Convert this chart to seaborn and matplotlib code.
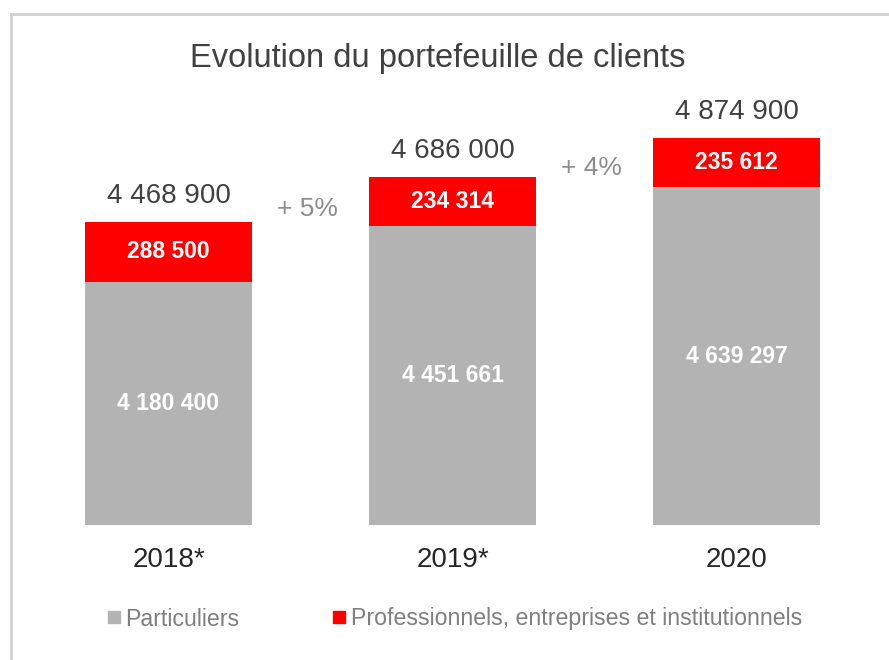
import matplotlib
matplotlib.use("Agg")
import matplotlib.pyplot as plt
from matplotlib.lines import Line2D
from matplotlib.patches import Rectangle
import seaborn as sns
import pandas as pd

# data
years = ["2018*", "2019*", "2020"]
particuliers = [4180400, 4451661, 4639297]
professionnels = [288500, 234314, 235612]
totals = [4468900, 4686000, 4874900]
growth = ["+ 5%", "+ 4%"]

gray = "#B3B3B3"
red = "#FF0000"

sns.set_theme(style="white")
plt.rcParams["font.family"] = ["Liberation Sans", "DejaVu Sans"]

df = pd.DataFrame({"year": years, "part": particuliers, "pro": professionnels, "total": totals})

fig = plt.figure(figsize=(8.89, 6.6), dpi=100)
ax = fig.add_axes([0.0298, 0.2045, 0.9584, 0.644])

# card border
fig.patches.append(Rectangle((11 / 889, -0.1), 1.2, 1 - 14 / 660 + 0.1, transform=fig.transFigure,
                             facecolor="white", edgecolor="#D0D0D0", linewidth=2, zorder=-1))

# stacked look: full total in red, particuliers in gray on top
sns.barplot(data=df, x="year", y="total", color=red, width=0.59, saturation=1, linewidth=0, ax=ax)
sns.barplot(data=df, x="year", y="part", color=gray, width=0.59, saturation=1, linewidth=0, ax=ax)

ax.set_ylim(3000000, 5061250)
ax.set_xlim(-0.5, 2.5)
ymin = ax.get_ylim()[0]

for i in range(len(years)):
    ax.text(i, (ymin + particuliers[i]) / 2, f"{particuliers[i]:,}".replace(",", " "),
            ha="center", va="center", color="white", fontsize=16.5, fontweight="bold")
    ax.text(i, particuliers[i] + professionnels[i] / 2, f"{professionnels[i]:,}".replace(",", " "),
            ha="center", va="center", color="white", fontsize=16.5, fontweight="bold")
    ax.annotate(f"{totals[i]:,}".replace(",", " "), (i, totals[i]), xytext=(0, 19),
                textcoords="offset points", ha="center", va="center", color="#404040", fontsize=20)

for i, g in enumerate(growth):
    ax.annotate(g, (i + 0.49, (totals[i] + totals[i + 1]) / 2), xytext=(0, -7),
                textcoords="offset points", ha="center", va="center", color="#8C8C8C", fontsize=19)

ax.set_xlabel("")
ax.set_ylabel("")
ax.set_yticks([])
ax.tick_params(axis="x", length=0, pad=16, labelsize=20, labelcolor="#262626")
sns.despine(ax=ax, left=True, bottom=True)
ax.patch.set_alpha(0)

fig.text(0.4927, 1 - 58 / 660, "Evolution du portefeuille de clients", ha="center", va="center",
         fontsize=23.5, color="#404040")

handles = [Line2D([], [], marker="s", linestyle="", color=gray, markersize=8),
           Line2D([], [], marker="s", linestyle="", color=red, markersize=8)]
fig.legend(handles, ["Particuliers", "Professionnels, entreprises et institutionnels"],
           loc="center", bbox_to_anchor=(0.511, 1 - 619 / 660), ncol=2, frameon=False,
           fontsize=16.7, labelcolor="#7F7F7F", handlelength=0.6, handletextpad=0.2,
           columnspacing=4.0)

fig.savefig("out.png", dpi=100, facecolor="white")
